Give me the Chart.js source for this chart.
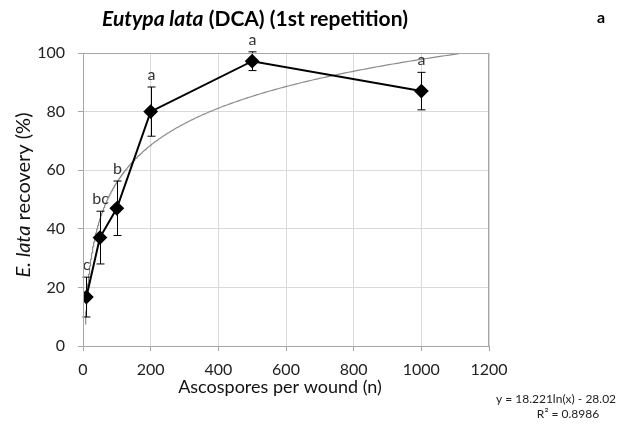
<!DOCTYPE html>
<html><head><meta charset="utf-8">
<script src="https://cdn.jsdelivr.net/npm/chart.js@4/dist/chart.umd.min.js"></script>
<style>html,body{margin:0;padding:0;background:#fff}#wrap{width:624px;height:426px}</style>
</head><body><div id="wrap"><canvas id="c" width="624" height="426"></canvas></div>
<script>
const spores = [10, 50, 100, 200, 500, 1000];
const recovery = [16.7, 37, 47, 80, 97.2, 87];
const errors = [6.8, 9, 9.3, 8.4, 3.2, 6.4];
const letters = ['c', 'bc', 'b', 'a', 'a', 'a'];
const xTicks = [0, 200, 400, 600, 800, 1000, 1200];
const yTicks = [0, 20, 40, 60, 80, 100];
const trendSlope = 18.221;
const trendIntercept = -28.02;
const trendStart = 7, trendEnd = 1200;

const trendPts = [];
for (let i = 0; i <= 400; i++) {
  const x = trendStart * Math.pow(trendEnd / trendStart, i / 400);
  trendPts.push({x: x, y: trendSlope * Math.log(x) + trendIntercept});
}
const FONT = 'Lato, "Open Sans", sans-serif';

const overlay = {
  id: 'overlay',
  afterDatasetsDraw(chart) {
    const {ctx, scales: {x, y}} = chart;
    ctx.save();
    ctx.strokeStyle = '#000'; ctx.lineWidth = 1;
    spores.forEach((s, i) => {
      const px = Math.round(x.getPixelForValue(s)) + 0.5;
      const t = y.getPixelForValue(recovery[i] + errors[i]);
      const b = y.getPixelForValue(recovery[i] - errors[i]);
      ctx.beginPath();
      ctx.moveTo(px, t); ctx.lineTo(px, b);
      ctx.moveTo(px - 4, t); ctx.lineTo(px + 4, t);
      ctx.moveTo(px - 4, b); ctx.lineTo(px + 4, b);
      ctx.stroke();
      ctx.fillStyle = '#333';
      ctx.font = '16px ' + FONT;
      ctx.textAlign = 'center'; ctx.textBaseline = 'middle';
      ctx.fillText(letters[i], px, t - 12);
    });
    ctx.restore();
  },
  afterDraw(chart) {
    const {ctx, chartArea: a} = chart;
    ctx.save();
    ctx.strokeStyle = '#a6a6a6'; ctx.lineWidth = 1;
    ctx.strokeRect(Math.round(a.left) + 0.5, Math.round(a.top) + 0.5, Math.round(a.right - a.left) - 1, Math.round(a.bottom - a.top));
    ctx.fillStyle = '#000';
    ctx.textBaseline = 'middle';
    const p1 = 'Eutypa lata', p2 = ' (DCA) (1st repetition)';
    ctx.font = 'italic bold 21px ' + FONT; const w1 = ctx.measureText(p1).width;
    ctx.font = 'bold 21px ' + FONT; const w2 = ctx.measureText(p2).width;
    let sx = 255 - (w1 + w2) / 2;
    ctx.textAlign = 'left';
    ctx.font = 'italic bold 21px ' + FONT; ctx.fillText(p1, sx, 19);
    ctx.font = 'bold 21px ' + FONT; ctx.fillText(p2, sx + w1, 19);
    ctx.font = 'bold 16px ' + FONT; ctx.fillText('a', 597, 18);
    ctx.font = '18px ' + FONT; ctx.textAlign = 'center'; ctx.fillStyle = '#111';
    ctx.fillText('Ascospores per wound (n)', 280, 387);
    ctx.save();
    ctx.translate(24, 195); ctx.rotate(-Math.PI / 2);
    const q1 = 'E. lata', q2 = ' recovery (%)';
    ctx.font = 'italic 20px ' + FONT; const v1 = ctx.measureText(q1).width;
    ctx.font = '20px ' + FONT; const v2 = ctx.measureText(q2).width;
    ctx.textAlign = 'left';
    ctx.font = 'italic 20px ' + FONT; ctx.fillText(q1, -(v1 + v2) / 2, 0);
    ctx.font = '20px ' + FONT; ctx.fillText(q2, -(v1 + v2) / 2 + v1, 0);
    ctx.restore();
    ctx.font = '12px ' + FONT; ctx.fillStyle = '#222'; ctx.textAlign = 'center';
    ctx.fillText('y = ' + trendSlope + 'ln(x) - ' + Math.abs(trendIntercept).toFixed(2), 556, 399);
    ctx.fillText('R\u00B2 = 0.8986', 568, 414);
    ctx.restore();
  }
};

new Chart(document.getElementById('c'), {
  type: 'scatter',
  data: {
    datasets: [
      {
        data: trendPts, showLine: true, borderColor: '#8c8c8c', borderWidth: 1.2,
        pointRadius: 0, tension: 0, order: 2
      },
      {
        data: spores.map((s, i) => ({x: s, y: recovery[i]})), showLine: true,
        borderColor: '#000', backgroundColor: '#000', borderWidth: 2,
        pointStyle: 'rectRot', pointRadius: 6, pointHoverRadius: 6, order: 1
      }
    ]
  },
  options: {
    responsive: false, animation: false, devicePixelRatio: 1,
    layout: {padding: {left: 0, top: 53, right: 135, bottom: 0}},
    plugins: {legend: {display: false}, tooltip: {enabled: false}, title: {display: false}},
    scales: {
      x: {
        type: 'linear', min: 0, max: 1200,
        afterBuildTicks: s => { s.ticks = xTicks.map(v => ({value: v})); },
        afterFit: s => { s.height = 80; },
        grid: {color: '#d9d9d9', tickLength: 5, tickColor: '#a6a6a6'},
        border: {color: '#a6a6a6'},
        ticks: {color: '#222', font: {family: FONT, size: 16}, padding: 9, maxRotation: 0,
                callback: v => String(v)}
      },
      y: {
        min: 0, max: 100,
        afterBuildTicks: s => { s.ticks = yTicks.map(v => ({value: v})); },
        afterFit: s => { s.width = 83; },
        grid: {color: '#d9d9d9', tickLength: 5, tickColor: '#a6a6a6'},
        border: {color: '#a6a6a6'},
        ticks: {color: '#222', font: {family: FONT, size: 16}, padding: 13,
                callback: v => String(v)}
      }
    }
  },
  plugins: [overlay]
});
</script></body></html>
